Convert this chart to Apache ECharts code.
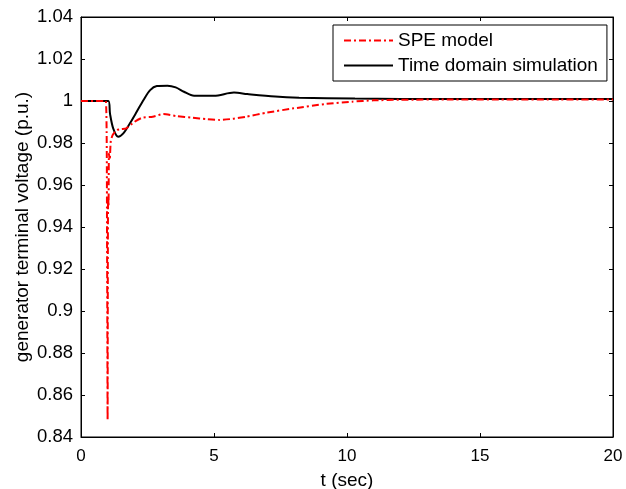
<!DOCTYPE html>
<html>
<head>
<meta charset="utf-8">
<script src="https://cdn.jsdelivr.net/npm/echarts@6/dist/echarts.min.js"></script>
<style>
    html, body { margin: 0; padding: 0; background: #fff; }
    #chart { width: 626px; height: 489px; }
</style>
</head>
<body>
<div id="chart"></div>
<script>
// SPE model (red dash-dot)
const tSpe = [0, 0.93, 0.98, 1.0, 1.01, 1.02, 1.035, 1.05, 1.08, 1.12, 1.2, 1.35, 1.5, 1.7, 2.0, 2.3, 2.7, 3.1, 3.6, 4.2, 4.7, 5.2, 5.7, 6.2, 7.0, 8.0, 9.2, 10.2, 11, 12, 14, 16, 18, 20];
const vSpe = [1.0, 1.0, 0.93, 0.848, 0.93, 0.955, 0.95, 0.975, 0.972, 0.981, 0.984, 0.9862, 0.9866, 0.987, 0.990, 0.992, 0.9925, 0.9938, 0.9928, 0.992, 0.9914, 0.991, 0.9915, 0.9925, 0.9945, 0.9965, 0.9986, 0.9997, 1.0003, 1.0006, 1.0007, 1.0007, 1.0007, 1.0007];

// Time domain simulation (black solid)
const tTds = [0, 1.03, 1.09, 1.21, 1.40, 1.59, 1.84, 2.1, 2.35, 2.6, 2.85, 3.25, 3.56, 3.87, 4.25, 5.0, 5.75, 6.25, 7.3, 8.2, 10.3, 12, 14, 16, 18, 20];
const vTds = [1.0, 1.0, 0.994, 0.987, 0.983, 0.9846, 0.9894, 0.995, 1.0005, 1.0052, 1.0071, 1.0073, 1.0065, 1.0044, 1.0025, 1.0025, 1.004, 1.0033, 1.0021, 1.0016, 1.0012, 1.001, 1.0009, 1.0009, 1.0009, 1.0009];

const seriesNames = ['SPE model', 'Time domain simulation'];
const xTicks = { min: 0, max: 20, interval: 5 };
const yTicks = { min: 0.84, max: 1.04, interval: 0.02 };

const font = 'Liberation Sans, Arial, sans-serif';
const pair = (ts, vs) => ts.map((t, i) => [t, vs[i]]);

const chart = echarts.init(document.getElementById('chart'), null, { renderer: 'canvas' });

const tickInside = { show: true, inside: true, length: 4, lineStyle: { color: '#000', width: 1 } };
const axisLine = { show: true, onZero: false, lineStyle: { color: '#000', width: 1 } };

const option = {
    animation: false,
    backgroundColor: '#fff',
    grid: {
        left: 81, right: 13, top: 17, bottom: 52,
        outerBoundsMode: 'none',
        show: true, borderColor: '#000', borderWidth: 1
    },
    legend: {
        data: seriesNames,
        orient: 'vertical',
        left: 333,
        top: 25,
        padding: [5, 9, 5, 10],
        itemGap: 4,
        itemWidth: 49,
        itemHeight: 14,
        backgroundColor: '#fff',
        borderColor: '#000',
        borderWidth: 1,
        itemStyle: { opacity: 0 },
        textStyle: { fontFamily: font, fontSize: 19, color: '#000', lineHeight: 21 }
    },
    xAxis: [
        {
            type: 'value',
            min: xTicks.min, max: xTicks.max, interval: xTicks.interval,
            position: 'bottom',
            name: 't (sec)',
            nameLocation: 'middle',
            nameGap: 34,
            nameTextStyle: { fontFamily: font, fontSize: 19, color: '#000' },
            axisLine: axisLine,
            axisTick: tickInside,
            splitLine: { show: false },
            axisLabel: { fontFamily: font, fontSize: 17, color: '#000', margin: 11 }
        },
        {
            type: 'value',
            min: xTicks.min, max: xTicks.max, interval: xTicks.interval,
            position: 'top',
            axisLine: axisLine,
            axisTick: tickInside,
            splitLine: { show: false },
            axisLabel: { show: false }
        }
    ],
    yAxis: [
        {
            type: 'value',
            min: yTicks.min, max: yTicks.max, interval: yTicks.interval,
            position: 'left',
            name: 'generator terminal voltage (p.u.)',
            nameLocation: 'middle',
            nameGap: 49,
            nameMoveOverlap: false,
            nameTextStyle: { fontFamily: font, fontSize: 19, color: '#000' },
            axisLine: axisLine,
            axisTick: tickInside,
            splitLine: { show: false },
            axisLabel: { fontFamily: font, fontSize: 18.5, color: '#000', margin: 8 }
        },
        {
            type: 'value',
            min: yTicks.min, max: yTicks.max, interval: yTicks.interval,
            position: 'right',
            axisLine: axisLine,
            axisTick: tickInside,
            splitLine: { show: false },
            axisLabel: { show: false }
        }
    ],
    series: [
        {
            name: seriesNames[1],
            type: 'line',
            data: pair(tTds, vTds),
            symbol: 'none',
            smooth: 0.3,
            color: '#000',
            lineStyle: { color: '#000', width: 2 },
            z: 2
        },
        {
            name: seriesNames[0],
            type: 'line',
            data: pair(tSpe, vSpe),
            symbol: 'none',
            smooth: 0.2,
            color: '#ff0000',
            lineStyle: { color: '#ff0000', width: 2, type: [7, 3, 2, 3] },
            z: 3
        }
    ]
};
chart.setOption(option);
</script>
</body>
</html>
